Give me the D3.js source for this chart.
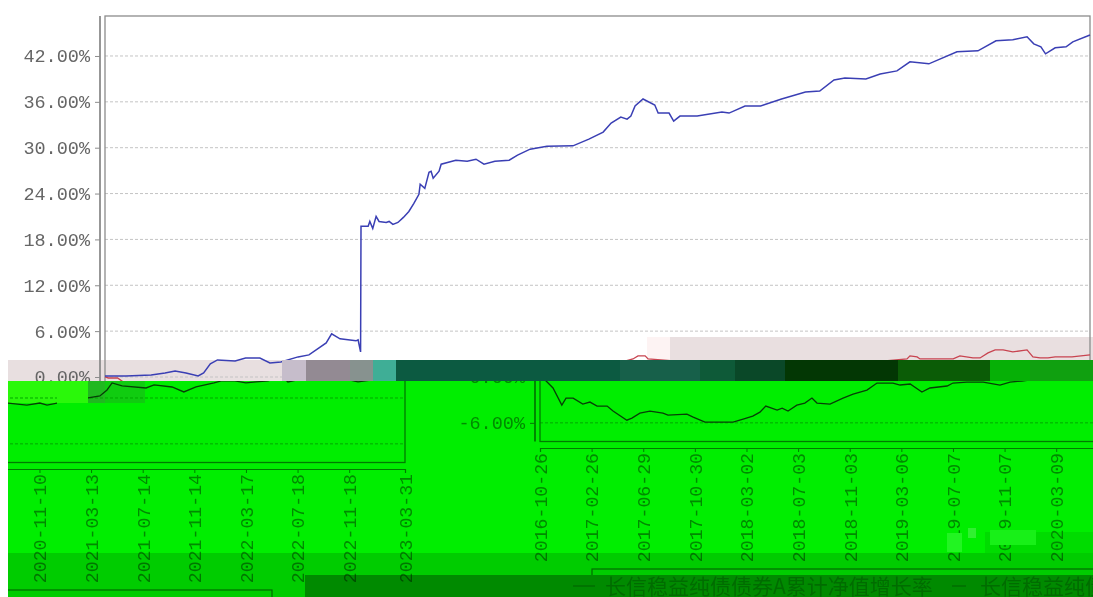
<!DOCTYPE html>
<html>

<head>
    <meta charset="utf-8">
    <script src="https://cdn.jsdelivr.net/npm/d3@7"></script>
    <style>
        html, body { margin: 0; padding: 0; background: #fff; overflow: hidden; }
        svg { display: block; filter: blur(0.4px); }
    </style>
</head>

<body>
    <div id="container"></div>
    <script>
        // tick dates, everything on the x axis is days since the first one
        const xLabels = ["2016-10-26", "2017-02-26", "2017-06-29", "2017-10-30", "2018-03-02", "2018-07-03",
            "2018-11-03", "2019-03-06", "2019-07-07", "2019-11-07", "2020-03-09", "2020-07-10", "2020-11-10",
            "2021-03-13", "2021-07-14", "2021-11-14", "2022-03-17", "2022-07-18", "2022-11-18", "2023-03-31"];
        const yTicks = [42, 36, 30, 24, 18, 12, 6, 0, -6];

        const fundDays = [0, 50, 110, 143, 167, 193, 222, 235, 251, 268, 310, 335, 369, 393, 419, 460, 486, 510, 527, 540,
            560, 598, 603, 609, 610, 627, 631, 638, 646, 653, 670, 677, 686, 698, 711, 724, 736, 748, 751, 762, 772, 777,
            782, 796, 801, 836, 863, 884, 903, 929, 963, 983, 1013, 1053, 1115, 1153, 1187, 1206, 1229, 1244, 1253, 1263,
            1282, 1310, 1318, 1344, 1355, 1370, 1411, 1470, 1487, 1525, 1562, 1612, 1669, 1703, 1737, 1763, 1813, 1847,
            1887, 1918, 1963, 2030, 2080, 2123, 2163, 2197, 2213, 2230, 2241, 2264, 2290, 2306, 2347];
        const fundValues = [0.13, 0.13, 0.26, 0.53, 0.79, 0.53, 0.13, 0.53, 1.71, 2.23, 2.10, 2.49, 2.49, 1.84, 1.97, 2.63,
            2.89, 3.81, 4.46, 5.65, 4.99, 4.73, 4.86, 3.28, 19.73, 19.73, 20.35, 19.43, 21.01, 20.35, 20.22, 20.35, 19.96,
            20.22, 20.88, 21.66, 22.71, 23.90, 25.21, 24.68, 26.79, 26.92, 26.00, 26.92, 27.84, 28.36, 28.23, 28.49, 27.84,
            28.23, 28.36, 29.02, 29.81, 30.20, 30.24, 31.12, 32.04, 33.22, 34.00, 33.74, 34.14, 35.45, 36.37, 35.58, 34.53,
            34.53, 33.48, 34.14, 34.14, 34.66, 34.53, 35.45, 35.45, 36.37, 37.29, 37.42, 38.87, 39.13, 39.00, 39.65, 40.05,
            41.23, 40.97, 42.54, 42.67, 43.99, 44.12, 44.51, 43.59, 43.20, 42.28, 43.07, 43.20, 43.85, 44.75];

        const benchDays = [0, 8, 30, 50, 420, 800, 1200, 1258, 1270, 1287, 1294, 1500, 1800, 1911, 1918, 1935, 1942, 2021,
            2037, 2068, 2085, 2104, 2121, 2140, 2163, 2197, 2211, 2228, 2247, 2264, 2304, 2347];
        const benchValues = [0, -0.13, -0.13, -0.9, -0.9, 1.0, 1.5, 2.36, 2.76, 2.76, 2.36, 1.5, 1.8, 2.36, 2.76, 2.63, 2.36,
            2.36, 2.76, 2.49, 2.49, 3.15, 3.55, 3.55, 3.28, 3.55, 2.63, 2.49, 2.49, 2.63, 2.63, 2.89];

        const lowerDays = [0, 14, 31, 52, 62, 79, 102, 119, 136, 160, 174, 207, 219, 238, 262, 293, 305, 350, 365, 393, 436,
            460, 484, 507, 524, 538, 565, 577, 591, 612, 631, 648, 660, 691, 722, 746, 779, 803, 841, 858, 882, 910, 929,
            970, 984, 1017, 1056, 1096, 1120, 1148, 1180, 1250, 1318, 1401, 1446, 1477, 1494, 1518, 1620, 1637, 1649, 1673,
            1730, 1749, 1792, 1820, 1849, 1892, 1909, 1942, 1968, 1992, 2021, 2050, 2068, 2080, 2150, 2235, 2347];
        const lowerValues = [0, -0.49, -1.44, -3.68, -2.76, -2.76, -3.55, -3.28, -3.81, -3.81, -4.46, -5.65, -5.38, -4.73,
            -4.46, -4.73, -4.99, -4.86, -5.25, -5.91, -5.91, -5.91, -5.51, -5.12, -4.6, -3.81, -4.33, -4.07, -4.46, -3.68,
            -3.41, -2.76, -3.41, -3.55, -2.76, -2.23, -1.71, -0.79, -0.79, -1.05, -0.92, -1.97, -1.44, -1.18, -0.79, -0.66,
            -0.66, -1.05, -0.66, -0.53, -0.3, 0.1, -0.2, -0.66, -0.92, -0.66, -0.92, -0.66, 0.26, 1.05, 1.97, 1.58, 1.31,
            1.71, 1.44, 0.79, 1.44, 1.97, 2.23, 2.23, 1.97, 2.1, 2.23, 3.0, 2.1, 2.23, 3.2, 2.1, 3.0];

        const legendNames = ["长信稳益纯债债券A累计净值增长率", "长信稳益纯债债券A业绩比较基准"];

        const width = 1093;
        const height = 597;
        const font = "'Liberation Mono', monospace";

        const parseDate = d3.timeParse("%Y-%m-%d");
        const startDate = parseDate(xLabels[0]);
        const tickDays = xLabels.map(l => d3.timeDay.count(startDate, parseDate(l)));

        const x = d3.scaleLinear().domain([0, 2347]).range([105, 1090]);
        const y = d3.scaleLinear().domain([-8.44, 47.23]).range([441.5, 16]);

        const svg = d3.select("#container").append("svg")
            .attr("width", width)
            .attr("height", height)
            .style("background-color", "#fff");

        const defs = svg.append("defs");
        const addClip = (id, x0, y0, w, h) => defs.append("clipPath").attr("id", id)
            .append("rect").attr("x", x0).attr("y", y0).attr("width", w).attr("height", h);
        addClip("clip-top", 0, 0, width, 381);
        addClip("clip-left", 8, 381, 422, 216);
        addClip("clip-right", 430, 381, 663, 194);

        const block = (b) => svg.append("rect")
            .attr("x", b[0]).attr("y", b[1])
            .attr("width", b[2] - b[0]).attr("height", b[3] - b[1])
            .attr("fill", b[4]);

        const seriesLine = (days, values) => d3.line()
            .x(i => x(days[i]))
            .y(i => y(values[i]))(d3.range(days.length));

        // axes, grid and frame, used again for the two shifted pieces of the lower half
        function drawFrame(g, c) {
            g.append("g").selectAll("line")
                .data(yTicks)
                .join("line")
                .attr("x1", x.range()[0])
                .attr("x2", x.range()[1])
                .attr("y1", d => y(d))
                .attr("y2", d => y(d))
                .attr("stroke", c.grid)
                .attr("stroke-dasharray", "3,2");

            g.append("rect")
                .attr("x", 105).attr("y", 16)
                .attr("width", 985).attr("height", 425.5)
                .attr("fill", "none")
                .attr("stroke", c.frame)
                .attr("stroke-width", 1.3);

            const yAxis = g.append("g")
                .attr("transform", "translate(100,0)")
                .call(d3.axisLeft(y).tickValues(yTicks).tickSize(5).tickPadding(5).tickFormat(d => d.toFixed(2) + "%"));
            yAxis.select(".domain").attr("stroke", c.frame).attr("stroke-width", 1.8)
                .attr("d", "M0,16V441.5");
            yAxis.selectAll("line").attr("stroke", c.frame);
            yAxis.selectAll("text").attr("fill", c.text).style("font", "18.5px " + font);

            const xAxis = g.append("g")
                .attr("transform", "translate(0,448)")
                .call(d3.axisBottom(x).tickValues(tickDays).tickSize(4).tickFormat((d, i) => xLabels[i]));
            xAxis.select(".domain").attr("stroke", c.frame).attr("stroke-width", 1.2);
            xAxis.selectAll("line").attr("stroke", c.frame);
            xAxis.selectAll("text")
                .attr("fill", c.text)
                .attr("transform", "rotate(-90)")
                .attr("text-anchor", "end")
                .attr("x", -5)
                .attr("y", 0)
                .attr("dy", "0.35em")
                .style("font", "18.2px " + font);
        }

        // tinted parts behind the upper chart
        [[8, 360, 282, 381, "#e8dfe0"], [647, 337, 670, 360, "#fdf3f3"], [670, 337, 1093, 360, "#e9dfe0"]].forEach(block);

        const upper = svg.append("g").attr("clip-path", "url(#clip-top)");
        drawFrame(upper, { grid: "#c4c4c4", frame: "#8c8c8c", text: "#666" });
        upper.append("path").attr("d", seriesLine(benchDays, benchValues))
            .attr("fill", "none").attr("stroke", "#c84450").attr("stroke-width", 1.3);
        upper.append("path").attr("d", seriesLine(fundDays, fundValues))
            .attr("fill", "none").attr("stroke", "#3a3fb4").attr("stroke-width", 1.5);

        // broken strip between the two halves of the picture
        [[282, 360, 306, 381, "#c6bdcb"], [306, 360, 350, 381, "#938a93"], [350, 360, 373, 381, "#87928f"],
        [373, 360, 396, 381, "#3fae96"], [396, 360, 620, 381, "#0c5a41"], [620, 360, 700, 381, "#17604a"],
        [700, 360, 735, 381, "#0e5a38"], [735, 360, 785, 381, "#0a4828"], [785, 360, 898, 381, "#033704"],
        [898, 360, 990, 381, "#0b5c06"], [990, 360, 1030, 381, "#06b006"], [1030, 360, 1093, 381, "#10a010"]].forEach(block);

        block([8, 381, 1093, 597, "#00ee00"]);
        [[8, 381, 88, 403, "#2af80a"], [88, 381, 105, 403, "#20b820"], [105, 381, 145, 403, "#10cc10"],
        [985, 532, 1093, 553, "#00dc00"]].forEach(block);

        const paneStyle = { grid: "#00a800", frame: "#007c00", text: "#008a00" };
        const panes = [
            { clip: "clip-right", dx: 435, dy: 0 },
            { clip: "clip-left", dx: -685, dy: 21 }
        ];
        panes.forEach(p => {
            const pane = svg.append("g").attr("clip-path", "url(#" + p.clip + ")")
                .append("g").attr("transform", `translate(${p.dx},${p.dy})`);
            drawFrame(pane, paneStyle);
            pane.append("path").attr("d", seriesLine(lowerDays, lowerValues))
                .attr("fill", "none").attr("stroke", "#063f06").attr("stroke-width", 1.3);
            pane.append("rect")
                .attr("x", 157).attr("y", 569)
                .attr("width", 800).attr("height", 60)
                .attr("fill", "none")
                .attr("stroke", paneStyle.frame)
                .attr("stroke-width", 1.2);
        });

        // noise over the black line and over two of the tick labels
        [[57, 381, 88, 403, "#2af80a"], [57, 403, 92, 412, "#00ee00"], [947, 533, 962, 552, "#22f422"],
        [968, 528, 976, 538, "#30f030"], [990, 530, 1036, 545, "#18f018"]].forEach(block);

        // darker rows at the bottom
        svg.append("rect").attr("x", 8).attr("y", 553).attr("width", 1085).attr("height", 44)
            .attr("fill", "#000").attr("opacity", 0.14);
        svg.append("rect").attr("x", 305).attr("y", 575).attr("width", 788).attr("height", 22)
            .attr("fill", "#000").attr("opacity", 0.32);

        const legend = svg.append("g")
            .attr("fill", "#006c00")
            .style("font", "21px 'Noto Sans CJK SC'");
        legend.selectAll("text")
            .data(legendNames)
            .join("text")
            .attr("x", (d, i) => i ? 980 : 605)
            .attr("y", 594)
            .text(d => d);
        legend.selectAll("line")
            .data(legendNames)
            .join("line")
            .attr("x1", (d, i) => i ? 952 : 573)
            .attr("x2", (d, i) => i ? 966 : 595)
            .attr("y1", 586)
            .attr("y2", 586)
            .attr("stroke", "#006c00")
            .attr("stroke-width", 1.5);
    </script>
</body>

</html>
